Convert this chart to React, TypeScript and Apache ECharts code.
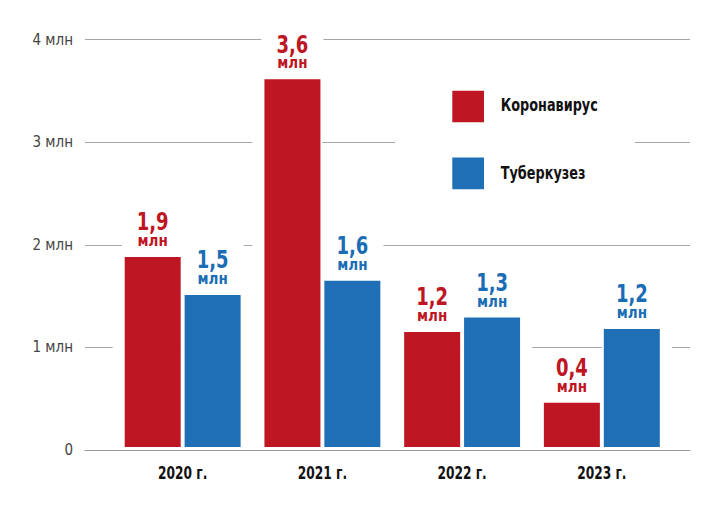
import React, { useEffect, useRef } from "react";
import * as echarts from "echarts";

const categories = ["2020 г.", "2021 г.", "2022 г.", "2023 г."];
const covidValues = [1.85, 3.58, 1.12, 0.43];
const tbValues = [1.48, 1.62, 1.26, 1.15];
const covidLabels = ["1,9", "3,6", "1,2", "0,4"];
const tbLabels = ["1,5", "1,6", "1,3", "1,2"];
const seriesNames = ["Коронавирус", "Туберкузез"];
const unitLabel = "млн";

const RED = "#BE1723";
const BLUE = "#1F6FB6";
const RED_TXT = "#BE1622";
const BLUE_TXT = "#1A6CB5";
const FONT = '"DejaVu Sans Condensed", "DejaVu Sans", sans-serif';

export default function App() {
  const ref = useRef<HTMLDivElement>(null);
  useEffect(() => {
    if (!ref.current) return;
    const chart = echarts.init(ref.current, null, { renderer: "svg" });
    const barW = 56;
    const gap = 4;
    const pad = 12;
    const numText = (x: number, y: number, text: string, fill: string) => ({
      type: "text",
      x,
      y,
      scaleX: 0.8,
      style: { text, fill, fontFamily: FONT, fontSize: 25, fontWeight: "bold", align: "center", verticalAlign: "middle" },
    });
    const unitText = (x: number, y: number, fill: string) => ({
      type: "text",
      x,
      y,
      style: { text: unitLabel, fill, fontFamily: FONT, fontSize: 15, fontWeight: "bold", align: "center", verticalAlign: "middle" },
    });
    const white = (x: number, y: number, width: number, height: number) => ({
      type: "rect",
      shape: { x, y, width, height },
      style: { fill: "#fff" },
    });
    const legendText = (y: number, text: string) => ({
      type: "text",
      x: 500.7,
      y,
      scaleX: 0.84,
      z: 6,
      style: { text, fill: "#111", fontFamily: FONT, fontSize: 17, fontWeight: "bold", align: "left", verticalAlign: "middle" },
    });
    chart.setOption({
      animation: false,
      textStyle: { fontFamily: FONT },
      grid: [
        { left: 85, right: 30, top: 39.5, bottom: 59 },
        { left: 112.8, right: 48.3, top: 36.2, bottom: 62 },
      ],
      graphic: {
        elements: [
          { type: "rect", z: 5, shape: { x: 395, y: 80, width: 240, height: 120 }, style: { fill: "#fff" } },
          { type: "rect", z: 6, shape: { x: 452.3, y: 90.7, width: 31.7, height: 31.6 }, style: { fill: RED } },
          { type: "rect", z: 6, shape: { x: 452.3, y: 157.5, width: 31.7, height: 31.8 }, style: { fill: BLUE } },
          legendText(105.5, seriesNames[0]),
          legendText(173, seriesNames[1]),
        ],
      },
      xAxis: [
        {
          type: "value",
          gridIndex: 0,
          min: 0,
          max: 1,
          axisLine: { show: true, lineStyle: { color: "#9a9a9a", width: 1.2 } },
          axisTick: { show: false },
          axisLabel: { show: false },
          splitLine: { show: false },
        },
        {
          type: "category",
          gridIndex: 1,
          data: categories,
          axisLine: { show: false },
          axisTick: { show: false },
          axisLabel: { show: false },
        },
      ],
      yAxis: [
        {
          type: "value",
          gridIndex: 0,
          min: 0,
          max: 4,
          interval: 1,
          axisLine: { show: false },
          axisTick: { show: false },
          axisLabel: {
            margin: 12,
            fontFamily: FONT,
            fontSize: 15,
            color: "#444",
            formatter: (v: number) => (v === 0 ? "0" : `${v} ${unitLabel}`),
          },
          splitLine: { show: true, lineStyle: { color: "#a6a6a6", width: 1.2 } },
        },
        {
          type: "value",
          gridIndex: 1,
          min: 0,
          max: 4,
          show: false,
          splitLine: { show: false },
        },
      ],
      series: [
        {
          type: "custom",
          xAxisIndex: 1,
          yAxisIndex: 1,
          silent: true,
          z: 1,
          data: categories.map((_, i) => [i, covidValues[i], tbValues[i]]),
          renderItem: (params: any, api: any) => {
            const i = api.value(0);
            const base = api.coord([i, 0]);
            const cx = base[0];
            const by = base[1];
            const rc = cx - gap / 2 - barW / 2;
            const bc = cx + gap / 2 + barW / 2;
            const tR = api.coord([i, api.value(1)])[1];
            const tB = api.coord([i, api.value(2)])[1];
            const rl = rc - barW / 2 - pad;
            return {
              type: "group",
              children: [
                white(rl, tR, cx - rl, by - tR),
                white(cx, tB, bc + barW / 2 + pad - cx, by - tB),
                white(rc - 31, tR - 52, 62, 52),
                white(bc - 31, tB - 52, 62, 52),
                numText(rc, tR - 35.5, covidLabels[i], RED_TXT),
                unitText(rc, tR - 16, RED_TXT),
                numText(bc, tB - 35.5, tbLabels[i], BLUE_TXT),
                unitText(bc, tB - 16, BLUE_TXT),
                {
                  type: "text",
                  x: cx,
                  y: by + 26,
                  scaleX: 0.8,
                  style: {
                    text: categories[i],
                    fill: "#111",
                    fontFamily: FONT,
                    fontSize: 17,
                    fontWeight: "bold",
                    align: "center",
                    verticalAlign: "middle",
                  },
                },
              ],
            };
          },
        },
        {
          name: seriesNames[0],
          type: "bar",
          xAxisIndex: 1,
          yAxisIndex: 1,
          barWidth: barW,
          barGap: "7%",
          z: 3,
          itemStyle: { color: RED },
          data: covidValues,
        },
        {
          name: seriesNames[1],
          type: "bar",
          xAxisIndex: 1,
          yAxisIndex: 1,
          barWidth: barW,
          z: 3,
          itemStyle: { color: BLUE },
          data: tbValues,
        },
      ],
    });
    return () => chart.dispose();
  }, []);
  return (
    <div
      ref={ref}
      style={{ position: "absolute", left: 0, top: 0, width: 720, height: 509, background: "#fff" }}
    />
  );
}
